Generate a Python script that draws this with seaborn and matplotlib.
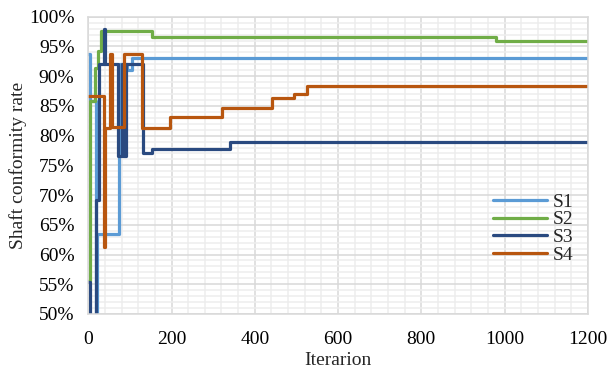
import matplotlib
matplotlib.use('Agg')
import matplotlib.pyplot as plt
from matplotlib.ticker import MultipleLocator, FuncFormatter
import pandas as pd
import seaborn as sns

# step change points (iteration, conformity %)
s1_iter = [0, 3, 18, 22, 73, 94, 104, 1200]
s1_rate = [93.8, 85.8, 49.0, 63.4, 92.1, 91.0, 93.0, 93.0]

s2_iter = [0, 4, 17, 24, 31, 153, 980, 1200]
s2_rate = [55.5, 85.8, 91.3, 94.3, 97.6, 96.6, 96.0, 96.0]

s3_iter = [0, 4, 18, 26, 37, 41, 72, 80, 84, 90, 131, 153, 340, 1200]
s3_rate = [55.3, 48.0, 69.2, 92.1, 97.9, 92.1, 76.6, 92.1, 76.6, 92.1, 77.0, 77.8, 78.9, 78.9]

s4_iter = [0, 38, 41, 51, 57, 85, 129, 196, 322, 441, 494, 525, 1200]
s4_rate = [86.7, 61.3, 81.3, 93.8, 81.4, 93.8, 81.3, 83.2, 84.7, 86.4, 87.0, 88.3, 88.3]

series_names = ['S1', 'S2', 'S3', 'S4']
colors = ['#5B9BD5', '#70AD47', '#2A4A80', '#B8560F']

frames = []
for name, xs, ys in zip(series_names,
                        [s1_iter, s2_iter, s3_iter, s4_iter],
                        [s1_rate, s2_rate, s3_rate, s4_rate]):
    frames.append(pd.DataFrame({'Iterarion': xs, 'rate': ys, 'series': name}))
df = pd.concat(frames, ignore_index=True)

sns.set_theme(style='white')
plt.rcParams['font.family'] = ['Liberation Serif', 'DejaVu Serif']

fig = plt.figure(figsize=(6.13, 3.72), dpi=100)
ax = fig.add_axes([0.144, 0.156, 0.815, 0.799])

sns.lineplot(data=df, x='Iterarion', y='rate', hue='series', hue_order=series_names,
             palette=colors, drawstyle='steps-post', linewidth=2.3,
             estimator=None, sort=False, ax=ax)

ax.set_xlim(0, 1200)
ax.set_ylim(50, 100)
ax.xaxis.set_major_locator(MultipleLocator(200))
ax.xaxis.set_minor_locator(MultipleLocator(40))
ax.yaxis.set_major_locator(MultipleLocator(5))
ax.yaxis.set_minor_locator(MultipleLocator(1))
ax.yaxis.set_major_formatter(FuncFormatter(lambda v, p: f'{v:.0f}%'))

ax.grid(which='major', color='#D9D9D9', linewidth=1.1)
ax.grid(which='minor', color='#EDEDED', linewidth=1.1)
ax.set_axisbelow(True)
for s in ax.spines.values():
    s.set_color('#D9D9D9')
    s.set_linewidth(1.1)

ax.tick_params(which='both', length=0, labelsize=14, colors='black')
ax.tick_params(axis='x', pad=12)
ax.tick_params(axis='y', pad=10)
ax.set_xlabel('Iterarion', fontsize=14, labelpad=3)
ax.set_ylabel('Shaft conformity rate', fontsize=14, labelpad=1)

ax.legend(loc='center left', bbox_to_anchor=(0.775, 0.288), frameon=False,
          fontsize=14, handlelength=2.8, handletextpad=0.3, labelspacing=0.0)

fig.savefig('out.png', dpi=100)
